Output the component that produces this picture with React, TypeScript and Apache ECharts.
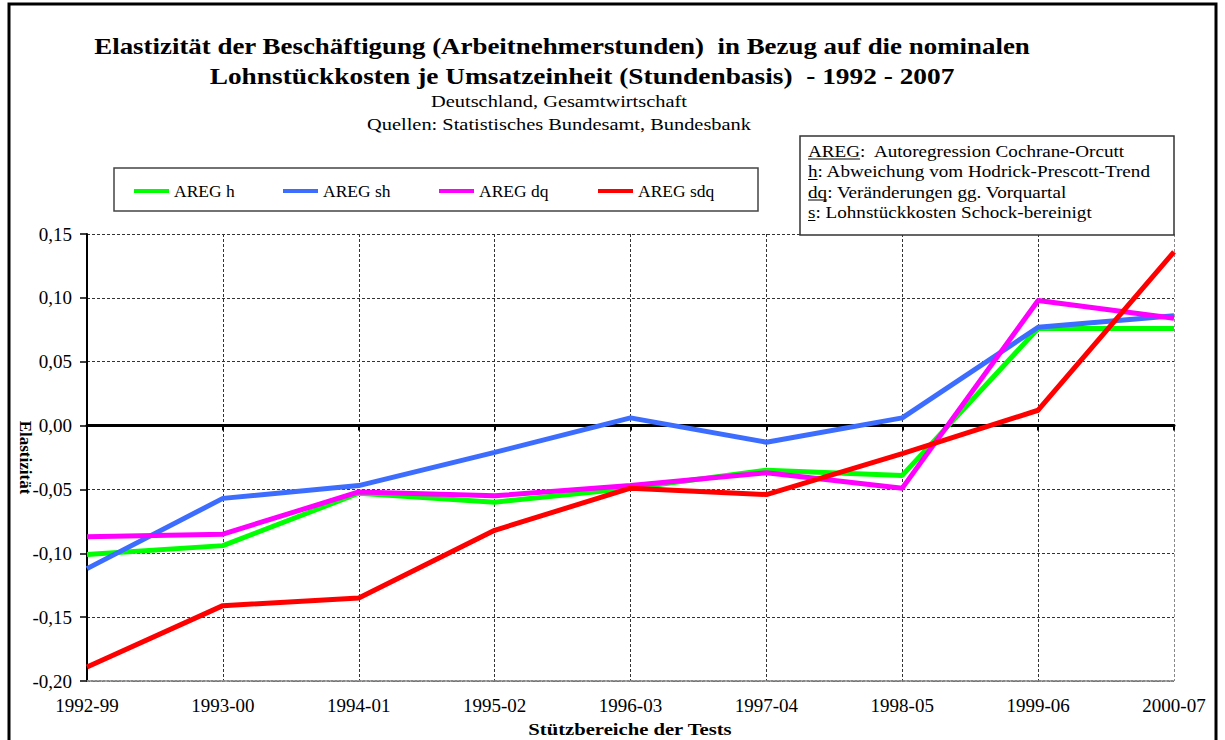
import React, { useEffect, useRef } from "react";
import * as echarts from "echarts";

const categories = ["1992-99", "1993-00", "1994-01", "1995-02", "1996-03", "1997-04", "1998-05", "1999-06", "2000-07"];
const aregH = [-0.101, -0.094, -0.053, -0.060, -0.049, -0.035, -0.039, 0.076, 0.076];
const aregSh = [-0.112, -0.057, -0.047, -0.021, 0.006, -0.013, 0.006, 0.077, 0.086];
const aregDq = [-0.087, -0.085, -0.052, -0.055, -0.047, -0.037, -0.049, 0.098, 0.084];
const aregSdq = [-0.189, -0.141, -0.135, -0.082, -0.049, -0.054, -0.022, 0.012, 0.136];

const seriesNames = ["AREG h", "AREG sh", "AREG dq", "AREG sdq"];
const seriesColors = ["#00FF00", "#3D6DFF", "#FF00FF", "#FF0000"];
const seriesData = [aregH, aregSh, aregDq, aregSdq];

const titleLine1 = "Elastizität der Beschäftigung (Arbeitnehmerstunden)  in Bezug auf die nominalen";
const titleLine2 = "Lohnstückkosten je Umsatzeinheit (Stundenbasis)  - 1992 - 2007";
const subLine1 = "Deutschland, Gesamtwirtschaft";
const subLine2 = "Quellen: Statistisches Bundesamt, Bundesbank";
const xAxisName = "Stützbereiche der Tests";
const yAxisName = "Elastizität";

const noteKeys = ["AREG", "h", "dq", "s"];
const noteRests = [":  Autoregression Cochrane-Orcutt", ": Abweichung vom Hodrick-Prescott-Trend", ": Veränderungen gg. Vorquartal", ": Lohnstückkosten Schock-bereinigt"];

const FONT = "Liberation Serif, Times New Roman, serif";

export default function App() {
  const ref = useRef<HTMLDivElement>(null);
  useEffect(() => {
    if (!ref.current) return;
    const chart = echarts.init(ref.current, null, { renderer: "svg" });

    const canvas = document.createElement("canvas");
    const ctx = canvas.getContext("2d")!;
    const noteSize = 16.5;
    const noteScale = 1.16;
    ctx.font = `${noteSize}px ${FONT}`;

    const noteElems: any[] = [];
    const noteX = 808;
    const noteYs = [151, 171.5, 192, 212.5];
    noteKeys.forEach((k, i) => {
      const kw = ctx.measureText(k).width * noteScale;
      noteElems.push({
        type: "text",
        x: noteX,
        y: noteYs[i],
        scaleX: noteScale,
        style: {
          text: k + noteRests[i],
          font: `${noteSize}px ${FONT}`,
          fill: "#000",
          textAlign: "left",
          textVerticalAlign: "middle",
        },
        z: 10,
      });
      noteElems.push({
        type: "line",
        shape: { x1: noteX, y1: noteYs[i] + 8, x2: noteX + kw, y2: noteYs[i] + 8 },
        style: { stroke: "#000", lineWidth: 1 },
        z: 10,
      });
    });

    const option: any = {
      animation: false,
      backgroundColor: "#fff",
      grid: { left: 87, right: 51, top: 234, bottom: 59, containLabel: false, outerBoundsMode: "none" },
      legend: seriesNames.map((n, i) => ({
        data: [{ name: n, icon: "rect" }],
        left: [134, 283, 439, 598][i],
        top: 182,
        padding: 0,
        itemWidth: 35,
        itemHeight: 4,
        selectedMode: false,
        textStyle: { fontFamily: FONT, fontSize: 17.5, color: "#000" },
      })),
      xAxis: [
        {
          type: "category",
          data: categories,
          boundaryGap: false,
          position: "bottom",
          axisLine: { show: true, onZero: false, lineStyle: { color: "#888", width: 2, type: "dotted" } },
          axisTick: { show: false },
          axisLabel: { fontFamily: FONT, fontSize: 19, color: "#000", margin: 15 },
          splitLine: {
            show: true,
            lineStyle: { color: ["#333", "#333", "#333", "#333", "#333", "#333", "#333", "#333", "#888"], type: [3, 2], width: 1 },
          },
        },
        {
          type: "category",
          data: categories,
          boundaryGap: false,
          position: "bottom",
          axisLine: { show: true, onZero: true, lineStyle: { color: "#000", width: 3 } },
          axisTick: { show: true, length: 5, lineStyle: { color: "#000", width: 2 } },
          axisLabel: { show: false },
          splitLine: { show: false },
        },
      ],
      yAxis: {
        type: "value",
        min: -0.2,
        max: 0.15,
        interval: 0.05,
        name: yAxisName,
        nameLocation: "middle",
        nameRotate: -90,
        nameGap: 62,
        nameMoveOverlap: false,
        nameTextStyle: { fontFamily: FONT, fontSize: 17, fontWeight: "bold", color: "#000", verticalAlign: "middle", align: "center" },
        axisLine: { show: true, lineStyle: { color: "#000", width: 2 } },
        axisTick: { show: true, length: 7, lineStyle: { color: "#000", width: 1.5 } },
        axisLabel: {
          fontFamily: FONT,
          fontSize: 19,
          color: "#000",
          margin: 15,
          formatter: (v: number) => (Math.abs(v) < 1e-9 ? 0 : v).toFixed(2).replace(".", ","),
        },
        splitLine: { show: true, lineStyle: { color: "#333", type: [3, 2], width: 1 } },
      },
      series: seriesNames.map((n, i) => ({
        name: n,
        type: "line",
        data: seriesData[i],
        symbol: "none",
        color: seriesColors[i],
        lineStyle: { color: seriesColors[i], width: 5 },
        z: 3 + i,
      })),
      graphic: [
        {
          type: "rect",
          shape: { x: 9, y: 4, width: 1207, height: 770 },
          style: { fill: "none", stroke: "#000", lineWidth: 3 },
          silent: true,
        },
        {
          type: "text",
          x: 562,
          y: 46,
          scaleX: 1.17,
          style: { text: titleLine1, font: `bold 23px ${FONT}`, fill: "#000", textAlign: "center", textVerticalAlign: "middle" },
        },
        {
          type: "text",
          x: 582,
          y: 76,
          scaleX: 1.19,
          style: { text: titleLine2, font: `bold 23px ${FONT}`, fill: "#000", textAlign: "center", textVerticalAlign: "middle" },
        },
        {
          type: "text",
          x: 559,
          y: 101,
          scaleX: 1.2,
          style: { text: subLine1, font: `17px ${FONT}`, fill: "#000", textAlign: "center", textVerticalAlign: "middle" },
        },
        {
          type: "text",
          x: 559,
          y: 124,
          scaleX: 1.2,
          style: { text: subLine2, font: `17px ${FONT}`, fill: "#000", textAlign: "center", textVerticalAlign: "middle" },
        },
        {
          type: "text",
          x: 630,
          y: 729,
          scaleX: 1.18,
          style: { text: xAxisName, font: `bold 17.5px ${FONT}`, fill: "#000", textAlign: "center", textVerticalAlign: "middle" },
        },
        {
          type: "rect",
          shape: { x: 114, y: 168, width: 644, height: 43 },
          style: { fill: "#fff", stroke: "#444", lineWidth: 1.5 },
          z: -1,
        },
        {
          type: "rect",
          shape: { x: 800, y: 136, width: 374, height: 99 },
          style: { fill: "#fff", stroke: "#333", lineWidth: 1.5 },
          z: 9,
        },
        ...noteElems,
      ],
    };
    chart.setOption(option);
    return () => chart.dispose();
  }, []);
  return <div ref={ref} style={{ position: "fixed", left: 0, top: 0, width: 1225, height: 740 }} />;
}
